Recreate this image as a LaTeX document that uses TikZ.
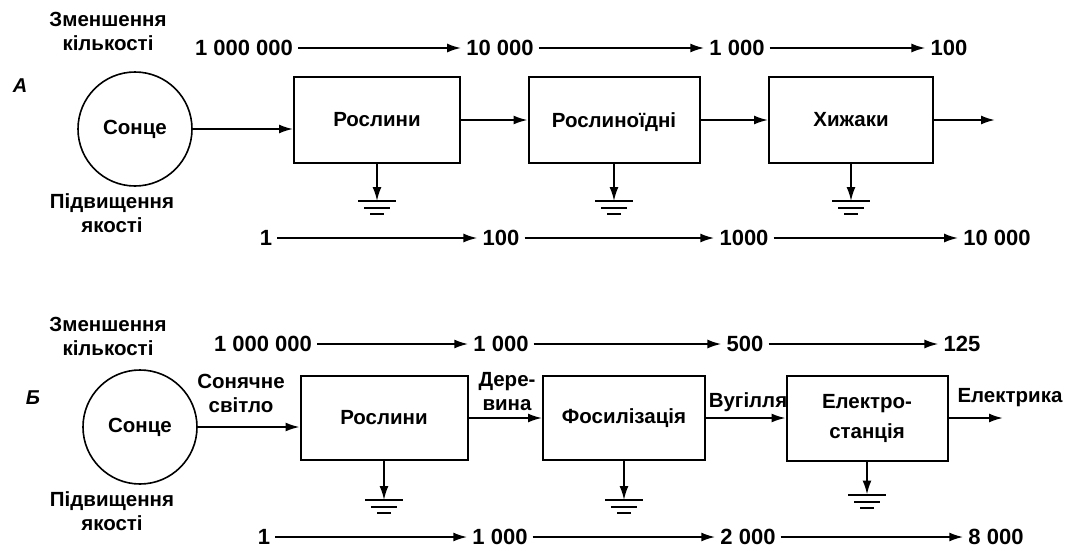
\documentclass[tikz,border=0pt]{standalone}
\usepackage{fontspec}
\setmainfont{Liberation Sans}
\usetikzlibrary{positioning,arrows.meta}

% earth symbol under a block
\newcommand\earth[1]{\draw[line width=2pt] (#1) +(-19,0) -- +(19,0) +(-13,7) -- +(13,7) +(-7,13) -- +(7,13);}

\begin{document}
\begin{tikzpicture}[
  x=1pt, y=-1pt,
  font=\bfseries\fontsize{20.5}{24}\selectfont,
  >={Latex[length=14pt,width=9pt]},
  sun/.style ={circle, draw, line width=1.6pt, minimum size=114pt, inner sep=0pt},
  blk/.style ={draw, line width=2pt, minimum width=166pt, minimum height=86pt,
               inner sep=0pt, align=center},
  num/.style ={inner ysep=2pt, inner xsep=5pt, font=\bfseries\fontsize{22}{24}\selectfont},
  lbl/.style ={align=center, inner sep=1pt},
  tag/.style ={inner sep=1pt, font=\bfseries\itshape\fontsize{20}{24}\selectfont},
  flow/.style={->, line width=2pt},
  link/.style={->, line width=1.8pt},
]
  \useasboundingbox (0,0) rectangle (1071,550);

  % --- A: харчовий ланцюг ---
  \node[tag] (tagA) at (20,86) {А};
  \node[lbl] (lessA) at (108,31) {Зменшення\\кількості};
  \node[sun] (sunA) at (135,129) {Сонце};
  \node[lbl] (moreA) at (112,213) {Підвищення\\якості};

  \node[blk] (plA) at (377,120) {Рослини};
  \node[blk, minimum width=171pt, text height=15pt, text depth=1pt] (hbA) at (614,120) {Рослиноїдні};
  \node[blk, minimum width=164pt] (prA) at (851,120) {Хижаки};
  \coordinate (outA) at (995,120);

  \draw[link] (sunA.east) -- (sunA.east -| plA.west);
  \draw[link] (plA) -- (hbA);
  \draw[link] (hbA) -- (prA);
  \draw[flow] (prA) -- (outA);

  \coordinate[below=37pt of plA.south] (gA1);
  \coordinate[below=37pt of hbA.south] (gA2);
  \coordinate[below=37pt of prA.south] (gA3);
  \draw[link] (plA.south) -- (gA1); \earth{gA1}
  \draw[link] (hbA.south) -- (gA2); \earth{gA2}
  \draw[link] (prA.south) -- (gA3); \earth{gA3}

  \node[num] (tA1) at (244,48) {1 000 000};
  \node[num] (tA2) at (500,48) {10 000};
  \node[num] (tA3) at (737,48) {1 000};
  \node[num] (tA4) at (949,48) {100};
  \draw[flow] (tA1) -- (tA2);
  \draw[flow] (tA2) -- (tA3);
  \draw[flow] (tA3) -- (tA4);

  \node[num] (bA1) at (266,238) {1};
  \node[num] (bA2) at (501,238) {100};
  \node[num] (bA3) at (744,238) {1000};
  \node[num] (bA4) at (997,238) {10 000};
  \draw[flow] (bA1) -- (bA2);
  \draw[flow] (bA2) -- (bA3);
  \draw[flow] (bA3) -- (bA4);

  % --- Б: викопне паливо ---
  \node[tag] (tagB) at (33,398) {Б};
  \node[lbl] (lessB) at (108,336) {Зменшення\\кількості};
  \node[sun] (sunB) at (140,427) {Сонце};
  \node[lbl] (moreB) at (112,511) {Підвищення\\якості};

  \node[blk, minimum width=167pt, minimum height=84pt] (plB) at (384,418) {Рослини};
  \node[blk, minimum width=162pt, minimum height=84pt] (foB) at (624,418) {Фосилізація};
  \node[blk, minimum width=161pt, minimum height=85pt] (psB) at (867,418) {Електро-\\[6pt]станція};
  \coordinate (outB) at (1003,418);

  \node[lbl] (lightB) at (241,393) {Сонячне\\світло};
  \node[lbl] (woodB) at (507,392) {Дере-\\вина};
  \node[lbl] (coalB) at (748,402) {Вугілля};
  \node[lbl] (elecB) at (1010,398) {Електрика};

  \draw[link] (sunB.east) -- (sunB.east -| plB.west);
  \draw[link] (plB) -- (foB);
  \draw[link] (foB) -- (psB);
  \draw[flow] (psB) -- (outB);

  \coordinate[below=39pt of plB.south] (gB1);
  \coordinate[below=39pt of foB.south] (gB2);
  \coordinate[below=33pt of psB.south] (gB3);
  \draw[link] (plB.south) -- (gB1); \earth{gB1}
  \draw[link] (foB.south) -- (gB2); \earth{gB2}
  \draw[link] (psB.south) -- (gB3); \earth{gB3}

  \node[num] (tB1) at (263,344) {1 000 000};
  \node[num] (tB2) at (501,344) {1 000};
  \node[num] (tB3) at (745,344) {500};
  \node[num] (tB4) at (962,344) {125};
  \draw[flow] (tB1) -- (tB2);
  \draw[flow] (tB2) -- (tB3);
  \draw[flow] (tB3) -- (tB4);

  \node[num] (bB1) at (264,537) {1};
  \node[num] (bB2) at (500,537) {1 000};
  \node[num] (bB3) at (748,537) {2 000};
  \node[num] (bB4) at (996,537) {8 000};
  \draw[flow] (bB1) -- (bB2);
  \draw[flow] (bB2) -- (bB3);
  \draw[flow] (bB3) -- (bB4);
\end{tikzpicture}
\end{document}
